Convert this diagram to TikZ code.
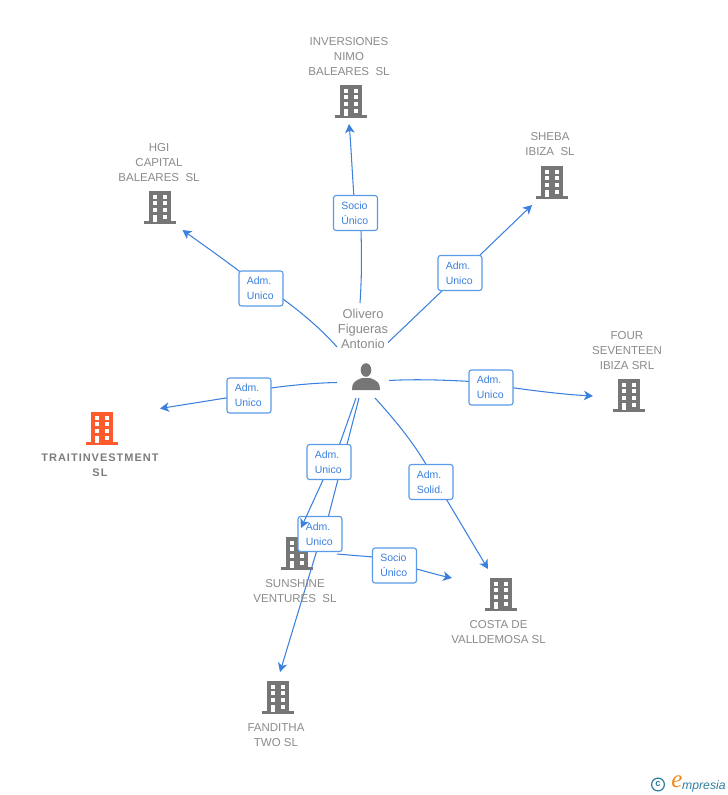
\documentclass[tikz,border=0pt]{standalone}
\usepackage{fontspec}
\setmainfont{Liberation Sans}
\newfontfamily\spacedbold[LetterSpace=9]{Liberation Sans Bold}
\newfontfamily\logofont{Liberation Serif}
\usetikzlibrary{arrows.meta,backgrounds}
\definecolor{linkblue}{HTML}{3B80DE}
\definecolor{boxblue}{HTML}{5A9AE6}
\definecolor{txtgrey}{HTML}{8A8A8A}
\definecolor{iconcol}{HTML}{767676}
\definecolor{mainorange}{HTML}{FF5A2B}
\definecolor{logoblue}{HTML}{2F7F9F}
\definecolor{logoorange}{HTML}{F08A1E}
\tikzset{
  x=1pt,y=-1pt,
  rel/.style={draw=boxblue,line width=1.1pt,fill=white,rounded corners=2.5pt,minimum width=44pt,minimum height=35pt,
    inner sep=0pt,text width=28.5pt,align=left,text=linkblue,font=\fontsize{10.5}{15}\selectfont},
  lab/.style={text=txtgrey,align=center,inner sep=0pt,font=\fontsize{11.5}{15}\selectfont},
  mainlab/.style={lab,font=\spacedbold\fontsize{11}{15}\selectfont,text=txtgrey!90!black},
  perslab/.style={lab,font=\fontsize{12.9}{15}\selectfont},
  iconbox/.style={inner sep=0pt,minimum width=32pt,minimum height=33pt},
  link/.style={draw=linkblue,line width=1.05pt},
  arrowlink/.style={link,-{Stealth[length=9pt,width=9.5pt,inset=2.5pt]}},
  pics/building/.style={code={
    \fill[#1] (-11,-16) rectangle (11,15);
    \fill[#1] (-16,14) rectangle (16,17);
    \foreach \ya/\yb in {-12/-8,-6/-2.5,1/5}{
      \fill[white] (-7,\ya) rectangle (-2.6,\yb);
      \fill[white] (2.5,\ya) rectangle (7,\yb);
    }
    \fill[white] (-7,7.5) rectangle (-2.6,15);
    \fill[white] (2.5,7.5) rectangle (7,11.7);
  }}
}
\begin{document}
\begin{tikzpicture}
\useasboundingbox (0,0) rectangle (728,795);

% relation boxes
\node[rel] (rNimo) at (355.5,213) {Socio\\Único};
\node[rel] (rHgi) at (261,288.5) {Adm.\\Unico};
\node[rel] (rSheba) at (460,273) {Adm.\\Unico};
\node[rel] (rFour) at (491,387.5) {Adm.\\Unico};
\node[rel] (rTrait) at (249,395.5) {Adm.\\Unico};
\node[rel] (rSun) at (329,462) {Adm.\\Unico};
\node[rel] (rFan) at (320,534) {Adm.\\Unico};
\node[rel] (rSocio) at (394.5,565.5) {Socio\\Único};
\node[rel] (rCosta) at (431,482) {Adm.\\Solid.};

% free ends
\coordinate (sNimo) at (360,303);
\coordinate (sHgi) at (337,347);
\coordinate (sSheba) at (388,342.5);
\coordinate (sFour) at (389,380.5);
\coordinate (sTrait) at (337,382.5);
\coordinate (sSun) at (356,398);
\coordinate (sFan) at (359,398);
\coordinate (sCosta) at (375,398);
\coordinate (sSocio) at (337,554);
\coordinate (eNimo) at (349,124);
\coordinate (eHgi) at (182.5,230);
\coordinate (eSheba) at (532,205);
\coordinate (eFour) at (593,396);
\coordinate (eTrait) at (160,408.5);
\coordinate (eSun) at (301,528);
\coordinate (eFan) at (280,672);
\coordinate (eSocio) at (452,578);
\coordinate (eCosta) at (488,569);

\begin{pgfonlayer}{background}
  % icons
  \node[iconbox] (nimo) at (351,101) {};
  \node[iconbox] (hgi) at (160,207) {};
  \node[iconbox] (sheba) at (552,182) {};
  \node[iconbox] (four) at (629,395) {};
  \node[iconbox] (trait) at (102,428) {};
  \node[iconbox] (sun) at (297,553) {};
  \node[iconbox] (costa) at (501,594) {};
  \node[iconbox] (fan) at (278,697) {};
  \pic at (nimo) {building=iconcol};
  \pic at (hgi) {building=iconcol};
  \pic at (sheba) {building=iconcol};
  \pic at (four) {building=iconcol};
  \pic at (trait) {building=mainorange};
  \pic at (sun) {building=iconcol};
  \pic at (costa) {building=iconcol};
  \pic at (fan) {building=iconcol};

  % connectors, person side
  \draw[link] (sNimo) .. controls (362,275) and (361.5,250) .. ([shift={(5.5,16)}]rNimo.center);
  \draw[link] (sHgi) .. controls (320,328) and (302,313) .. ([shift={(20,9)}]rHgi.center);
  \draw[link] (sSheba) -- ([shift={(-16,16)}]rSheba.center);
  \draw[link] (sFour) .. controls (415,379) and (445,380) .. ([shift={(-20,-6)}]rFour.center);
  \draw[link] (sTrait) .. controls (312,383) and (290,385.5) .. ([shift={(20,-7.3)}]rTrait.center);
  \draw[link] (sSun) -- ([shift={(10,-16)}]rSun.center);
  \draw[link] (sFan) -- ([shift={(8,-16)}]rFan.center);
  \draw[link] (sCosta) .. controls (395,420) and (413,442) .. ([shift={(-4,-16)}]rCosta.center);
  \draw[link] (sSocio) -- ([shift={(-20,-8.4)}]rSocio.center);

  % connectors, target side
  \draw[arrowlink] ([shift={(-1.5,-16)}]rNimo.center) .. controls (352,170) and (351,145) .. (eNimo);
  \draw[arrowlink] ([shift={(-20,-16)}]rHgi.center) .. controls (222,258) and (202,244) .. (eHgi);
  \draw[arrowlink] ([shift={(18,-16)}]rSheba.center) -- (eSheba);
  \draw[arrowlink] ([shift={(20,0)}]rFour.center) .. controls (540,391.5) and (565,394.5) .. (eFour);
  \draw[arrowlink] ([shift={(-20,2)}]rTrait.center) -- (eTrait);
  \draw[arrowlink] ([shift={(-3,16)}]rFan.center) -- (eFan);
  \draw[arrowlink] ([shift={(20,3)}]rSocio.center) .. controls (428,572) and (440,575.5) .. (eSocio);
  \draw[arrowlink] ([shift={(14,15)}]rCosta.center) -- (eCosta);
\end{pgfonlayer}

\draw[arrowlink] ([shift={(-6,18)}]rSun.center) -- (eSun);

% labels
\node[lab] (lNimo) at (349,56.5) {INVERSIONES\\NIMO\\BALEARES\ \ SL};
\node[lab] (lHgi) at (159,162.5) {HGI\\CAPITAL\\BALEARES\ \ SL};
\node[lab] (lSheba) at (550,144) {SHEBA\\IBIZA\ \ SL};
\node[lab] (lFour) at (627,350.5) {FOUR\\SEVENTEEN\\IBIZA SRL};
\node[mainlab] (lTrait) at (100,465.5) {TRAITINVESTMENT\\SL};
\node[lab] (lSun) at (295,591.5) {SUNSHINE\\VENTURES\ \ SL};
\node[lab] (lCosta) at (498.5,632) {COSTA DE\\VALLDEMOSA SL};
\node[lab] (lFan) at (276,735) {FANDITHA\\TWO SL};
\node[perslab] (lPers) at (363,329) {Olivero\\Figueras\\Antonio};

% person icon
\node[inner sep=0pt,minimum width=28pt,minimum height=27pt] (person) at (366,377) {};
\fill[iconcol] (366,370) ellipse (5.3 and 6.8);
\fill[iconcol] (352,390) .. controls (352,383) and (354,381) .. (362,378) -- (370,378)
  .. controls (378,381) and (380,383) .. (380,390) -- cycle;

% logo
\draw[logoblue,line width=1.2pt] (658,784.5) circle (6.4);
\node[inner sep=0pt,text=logoblue,font=\bfseries\fontsize{9.5}{9}\selectfont] (logoC) at (658,784) {c};
\node[inner sep=0pt,text=logoorange,font=\logofont\itshape\fontsize{25}{25}\selectfont] (logoE) at (677,782) {e};
\node[inner sep=0pt,anchor=base west,text=logoblue,font=\itshape\fontsize{12.2}{13}\selectfont] (logoT) at (682,789) {mpresia};
\end{tikzpicture}
\end{document}
